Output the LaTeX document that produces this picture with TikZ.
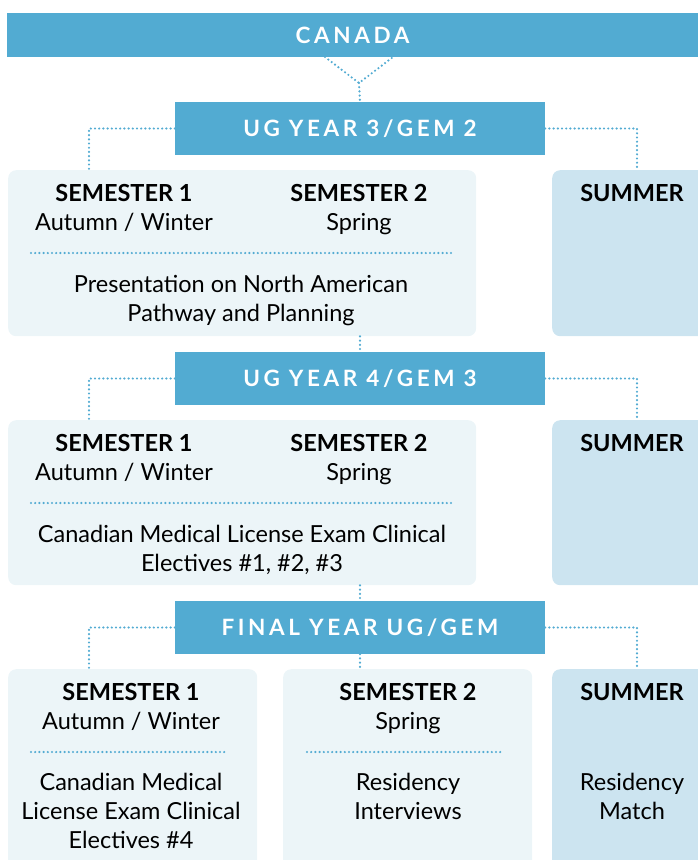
\documentclass[tikz,border=0pt]{standalone}
\usepackage{fontspec}
\setmainfont{Lato}
\newfontfamily\bannerfont[LetterSpace=16]{Lato}
\usetikzlibrary{positioning}
\definecolor{capblue}{HTML}{52ABD2}
\definecolor{paleblue}{HTML}{ECF5F8}
\definecolor{summerblue}{HTML}{CCE4F0}

\begin{document}
\begin{tikzpicture}[x=1pt,y=-1pt]
    \tikzstyle{banner} = [fill=capblue, text=white, inner sep=0pt,
    text depth=0pt, font=\bannerfont\bfseries\fontsize{22.5}{26}\selectfont]
    \tikzstyle{pane} = [fill=paleblue, rounded corners=8pt, inner
    sep=0pt, anchor=north west] \tikzstyle{sumpane} = [pane,
    fill=summerblue, minimum width=160pt]
    \tikzstyle{head} = [anchor=base, align=center,
    font=\fontsize{23.5}{29}\selectfont]
    \tikzstyle{link} = [draw=capblue, line width=2.4pt, line cap=round,
    dash pattern=on 0pt off 4.2pt]
    \useasboundingbox (0,0) rectangle (698,860);
    % year panes
    \node[pane, minimum width=468pt, minimum height=166pt] (y3pane) at
    (8,170) {}; \node[sumpane, minimum height=166pt] (y3sum) at
    (552,170) {}; \node[pane, minimum width=468pt, minimum
    height=165pt] (y4pane) at (8,420) {}; \node[sumpane, minimum
    height=165pt] (y4sum) at (552,420) {}; \node[pane, minimum
    width=249pt, minimum height=220pt] (finA) at (8,669) {};
    \node[pane, minimum width=249pt, minimum height=220pt] (finB) at
    (283,669) {}; \node[sumpane, minimum height=220pt] (finS) at
    (552,669) {};
    % banners
    \node[banner, minimum width=691pt, minimum height=44pt] (canada)
    at (352.5,35) {CANADA}; \node[banner, minimum width=370pt, minimum
    height=53pt] (y3) at (360,128.5) {UG YEAR 3/GEM 2}; \node[banner,
    minimum width=370pt, minimum height=53pt] (y4) at (360,378.5) {UG
    YEAR 4/GEM 3}; \node[banner, minimum width=370pt, minimum
    height=53pt] (fin) at (360,627.5) {FINAL YEAR UG/GEM};
    % texts
    \node[head] (y3s1) at (124,230) {\textbf{SEMESTER 1}\\Autumn /
      Winter}; \node[head] (y3s2) at (359,230) {\textbf{SEMESTER
        2}\\Spring}; \node[head] (y3sm) at (632,201)
    {\textbf{SUMMER}}; \node[head] (y3txt) at (241,321) {Presentation
      on North American\\Pathway and Planning};
    \node[head] (y4s1) at (124,480) {\textbf{SEMESTER 1}\\Autumn /
      Winter}; \node[head] (y4s2) at (359,480) {\textbf{SEMESTER
        2}\\Spring}; \node[head] (y4sm) at (632,451)
    {\textbf{SUMMER}}; \node[head] (y4txt) at (242,571) {Canadian
      Medical License Exam Clinical\\Electives \#1, \#2, \#3};
    \node[head] (fs1) at (131,729) {\textbf{SEMESTER 1}\\Autumn /
      Winter}; \node[head] (fs2) at (408,729) {\textbf{SEMESTER
        2}\\Spring}; \node[head] (fsm) at (632,700)
    {\textbf{SUMMER}}; \node[head] (fs1txt) at (131,848) {Canadian
      Medical\\License Exam Clinical\\Electives \#4};
    \node[head] (fs2txt) at (408,819) {Residency\\Interviews};
    \node[head] (fsmtxt) at (632,819) {Residency\\Match};
    % separators
    \draw[link] (31,253) -- (455,253); \draw[link] (31,503) --
    (455,503); \draw[link] (31,752) -- (225,752); \draw[link]
    (307,752) -- (502,752);
    % connectors
    \coordinate (vl) at (325,57); \coordinate (vr) at (393,57);
    \coordinate (fork) at (359,83);
    \draw[link] (vl) -- (fork) -- (vr); \draw[link] (fork) --
    (y3.north);
    \draw[link] (y3.west) -| ([xshift=81pt]y3pane.north west);
    \draw[link] (y3.east) -| ([xshift=85pt]y3sum.north west);
    \draw[link] (y3pane.south -| y4.north) -- (y4.north);
    \draw[link] (y4.west) -| ([xshift=81pt]y4pane.north west);
    \draw[link] (y4.east) -| ([xshift=85pt]y4sum.north west);
    \draw[link] (y4pane.south -| fin.north) -- (fin.north);
    \draw[link] (fin.west) -| ([xshift=81pt]finA.north west);
    \draw[link] (fin.east) -| ([xshift=85pt]finS.north west);
    \draw[link] (fin.south) -- (fin.south |- finB.north);
  \end{tikzpicture}
\end{document}
